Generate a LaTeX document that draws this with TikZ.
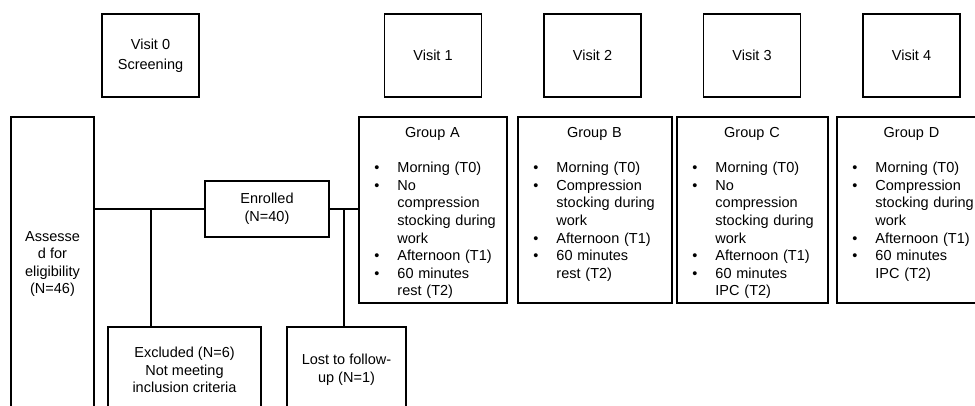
\documentclass[tikz,border=0pt]{standalone}
\usepackage{fontspec}
\setmainfont{Liberation Sans}
\usepackage{tikz}
\usetikzlibrary{positioning}
\tikzset{box/.style={draw,line width=1.5pt,inner sep=0pt,align=center,font=\fontsize{14.5}{17.6}\selectfont}}
\tikzset{visit/.style={box,minimum width=97pt,minimum height=83pt}}
\tikzset{grp/.style={draw,line width=1.5pt,minimum height=186pt}}
\tikzset{grptext/.style={anchor=north west,inner sep=0pt,align=left,font=\fontsize{14.5}{17.6}\selectfont}}
\tikzset{conn/.style={line width=1.5pt}}
\newcommand{\bul}[1]{\par\noindent\makebox[23pt][l]{\textbullet}#1}
\newcommand{\cont}[1]{\par\noindent\hspace*{23pt}#1}

\begin{document}
\begin{tikzpicture}[x=1pt,y=-1pt]
    \useasboundingbox (0,0) rectangle (975,406);
    \clip (0,0) rectangle (975,406);

    \node[visit] (v0) at (150.5,55.5) {Visit 0\\[2pt]Screening};
    \node[visit] (v1) at (433,55.5) {Visit 1};
    \node[visit] (v2) at (592.5,55.5) {Visit 2};
    \node[visit] (v3) at (752,55.5) {Visit 3};
    \node[visit] (v4) at (911.5,55.5) {Visit 4};

    \node[box,minimum width=83pt,minimum height=294pt] (assess) at (52.5,264) {Assesse\\d for\\eligibility\\(N=46)};
    \node[box,minimum width=124pt,minimum height=56pt] (enrol) at (267,209) {Enrolled\\(N=40)};
    \node[box,minimum width=153pt,minimum height=86pt] (excl) at (184.5,370) {Excluded (N=6)\\Not meeting\\inclusion criteria};
    \node[box,minimum width=119pt,minimum height=86pt] (lost) at (346.5,370) {Lost to follow-\\up (N=1)};

    \node[grp,minimum width=148pt] (grpA) at (433,210) {};
    \node[grp,minimum width=154pt] (grpB) at (595,210) {};
    \node[grp,minimum width=151pt] (grpC) at (752.5,210) {};
    \node[grp,minimum width=150pt] (grpD) at (912,210) {};

    \node[grptext,text width=128pt] (txtA) at ([xshift=16pt,yshift=-11pt]grpA.north west) {%
        \makebox[116pt]{Group A}\par\vspace{\baselineskip}%
        \bul{Morning (T0)}\bul{No}\cont{compression}\cont{stocking during}\cont{work}%
        \bul{Afternoon (T1)}\bul{60 minutes}\cont{rest (T2)}};
    \node[grptext,text width=134pt] (txtB) at ([xshift=16pt,yshift=-11pt]grpB.north west) {%
        \makebox[122pt]{Group B}\par\vspace{\baselineskip}%
        \bul{Morning (T0)}\bul{Compression}\cont{stocking during}\cont{work}%
        \bul{Afternoon (T1)}\bul{60 minutes}\cont{rest (T2)}};
    \node[grptext,text width=131pt] (txtC) at ([xshift=16pt,yshift=-11pt]grpC.north west) {%
        \makebox[119pt]{Group C}\par\vspace{\baselineskip}%
        \bul{Morning (T0)}\bul{No}\cont{compression}\cont{stocking during}\cont{work}%
        \bul{Afternoon (T1)}\bul{60 minutes}\cont{IPC (T2)}};
    \node[grptext,text width=130pt] (txtD) at ([xshift=16pt,yshift=-11pt]grpD.north west) {%
        \makebox[118pt]{Group D}\par\vspace{\baselineskip}%
        \bul{Morning (T0)}\bul{Compression}\cont{stocking during}\cont{work}%
        \bul{Afternoon (T1)}\bul{60 minutes}\cont{IPC (T2)}};

    % branch points on the main line
    \coordinate (jexcl) at (151,209);
    \coordinate (jlost) at (344,209);

    \draw[conn] (enrol.west) -- (enrol.west -| assess.east);
    \draw[conn] (enrol.east) -- (enrol.east -| grpA.west);
    \draw[conn] (jexcl) -- (jexcl |- excl.north);
    \draw[conn] (jlost) -- (jlost |- lost.north);
\end{tikzpicture}
\end{document}
